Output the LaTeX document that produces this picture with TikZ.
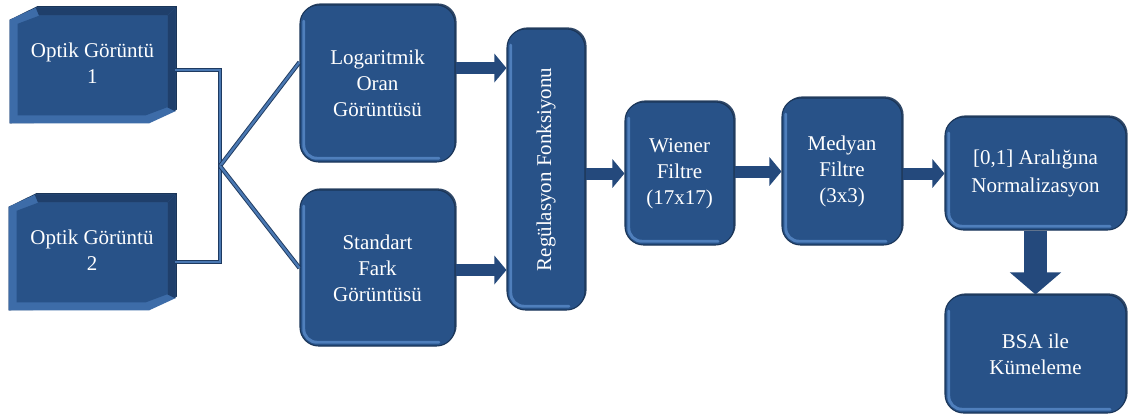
\documentclass[tikz,border=0pt]{standalone}
\usepackage{fontspec}
\usepackage{graphicx}
\setmainfont{Liberation Serif}
\usetikzlibrary{arrows.meta,shadows,backgrounds}
\definecolor{boxfill}{HTML}{285288}
\definecolor{boxedge}{HTML}{1A3558}
\definecolor{boxhl}{HTML}{4F7FBC}
\definecolor{boxrim}{HTML}{3D6CA8}
\definecolor{boxdark}{HTML}{1F3F6B}
\definecolor{arrowc}{HTML}{24497C}
\definecolor{linec}{HTML}{4A78B2}
\definecolor{lineedge}{HTML}{1E3A60}
\tikzset{
  boxfont/.style={font=\fontsize{15.75pt}{19.5pt}\selectfont},
  rbox/.style={boxfont, draw=boxedge, line width=0.8pt, fill=boxfill, text=white,
    align=center, inner sep=0pt, rounded corners=14pt,
    drop shadow={shadow xshift=1.2pt, shadow yshift=1.2pt, fill=boxedge, opacity=0.9},
    path picture={\draw[boxhl, line width=2.2pt, line cap=round, rounded corners=10pt]
      ([shift={(2.8pt,-12pt)}]path picture bounding box.north west) --
      ([shift={(2.8pt,2.8pt)}]path picture bounding box.south west) --
      ([shift={(-12pt,2.8pt)}]path picture bounding box.south east);}},
  obox/.style={boxfont, rectangle, text=white, align=center, inner sep=0pt},
  blk/.style={arrowc, line width=9pt, -{Triangle[length=9pt 0 0, width=21pt 0 0]}},
  dblk/.style={arrowc, line width=17pt, -{Triangle[length=16.5pt 0 0, width=37.5pt 0 0]}},
  conn/.style={draw=lineedge, double=linec, double distance=1.8pt, line width=0.7pt}
}
\newcommand\obevel[1]{%
  \fill[boxedge] ([shift={(20.7pt,1.2pt)}]#1.north west) -- ([shift={(1.2pt,1.2pt)}]#1.north east)
    -- ([shift={(1.2pt,10.2pt)}]#1.south east) -- ([shift={(-18.3pt,1.2pt)}]#1.south east)
    -- (#1.south west) -- ([yshift=-9pt]#1.north west) -- cycle;
  \fill[boxrim] ([xshift=19.5pt]#1.north west) -- (#1.north east) -- ([yshift=9pt]#1.south east)
    -- ([xshift=-19.5pt]#1.south east) -- (#1.south west) -- ([yshift=-9pt]#1.north west) -- cycle;
  \fill[boxdark] ([xshift=19.5pt]#1.north west) -- (#1.north east) -- ([shift={(-6pt,-6pt)}]#1.north east)
    -- ([shift={(22pt,-6pt)}]#1.north west) -- cycle;
  \fill[boxdark] (#1.north east) -- ([yshift=9pt]#1.south east) -- ([shift={(-6pt,12pt)}]#1.south east)
    -- ([shift={(-6pt,-6pt)}]#1.north east) -- cycle;
  \fill[boxfill] ([shift={(22pt,-6pt)}]#1.north west) -- ([shift={(-6pt,-6pt)}]#1.north east)
    -- ([shift={(-6pt,12pt)}]#1.south east) -- ([shift={(-22pt,6pt)}]#1.south east)
    -- ([shift={(6pt,6pt)}]#1.south west) -- ([shift={(6pt,-12pt)}]#1.north west) -- cycle;
}
\newcommand\otext[2]{\raisebox{4.5pt}{\begin{tabular}{@{}c@{}}#1\\#2\end{tabular}}}
\begin{document}
\begin{tikzpicture}[x=0.75pt, y=-0.75pt]
\useasboundingbox (0,0) rectangle (1128,419);
\begin{scope}[on background layer]
  \fill[white] (0,0) rectangle (1128,419);
\end{scope}

% input images
\node[obox, minimum width=123.75pt, minimum height=86.25pt] (o1) at (92.5,65.5) {\otext{Optik Görüntü}{1}};
\node[obox, minimum width=124.5pt, minimum height=86.25pt] (o2) at (92,252.5) {\otext{Optik Görüntü}{2}};
\begin{scope}[on background layer]
  \obevel{o1}
  \obevel{o2}
\end{scope}

% rounded boxes
\node[rbox, minimum width=116.25pt, minimum height=117.75pt] (log) at (377.5,83.5) {Logaritmik\\Oran\\Görüntüsü};
\node[rbox, minimum width=116.25pt, minimum height=117pt] (std) at (377.5,268) {Standart\\Fark\\Görüntüsü};
\node[rbox, minimum width=58.5pt, minimum height=210.75pt] (reg) at (546,169.5) {\rotatebox{90}{Regülasyon Fonksiyonu}};
\node[rbox, minimum width=81.75pt, minimum height=107.25pt] (wie) at (679.5,173.5) {Wiener\\Filtre\\(17x17)};
\node[rbox, minimum width=90pt, minimum height=110.25pt] (med) at (842,171.5) {Medyan\\Filtre\\(3x3)};
\node[rbox, minimum width=135.75pt, minimum height=84.75pt] (norm) at (1035.5,173.5) {[0,1] Aralığına\\[2pt]Normalizasyon};
\node[rbox, minimum width=135.75pt, minimum height=88.5pt] (bsa) at (1035.5,354) {BSA ile\\Kümeleme};

% connectors from the inputs
\coordinate (jt) at (220,70);
\coordinate (jm) at (220,166);
\draw[conn] ([yshift=-3.4pt]o1.east) -- ([yshift=-3.4pt]o1.east -| jt) -- ([yshift=-7.1pt]o2.east -| jt) -- ([yshift=-7.1pt]o2.east);
\draw[conn] (jm) -- ([yshift=16pt]log.west);
\draw[conn] (jm) -- (std.west);

% block arrows
\draw[blk] ([yshift=11.6pt]log.east) -- ([yshift=11.6pt]log.east -| reg.west);
\draw[blk] ([yshift=-1.5pt]std.east) -- ([yshift=-1.5pt]std.east -| reg.west);
\draw[blk] (reg.east |- wie.west) -- (wie.west);
\draw[blk] (wie.east |- med.west) -- (med.west);
\draw[blk] (med.east |- norm.west) -- (norm.west);
\draw[dblk] (norm.south) -- (bsa.north);
\end{tikzpicture}
\end{document}
